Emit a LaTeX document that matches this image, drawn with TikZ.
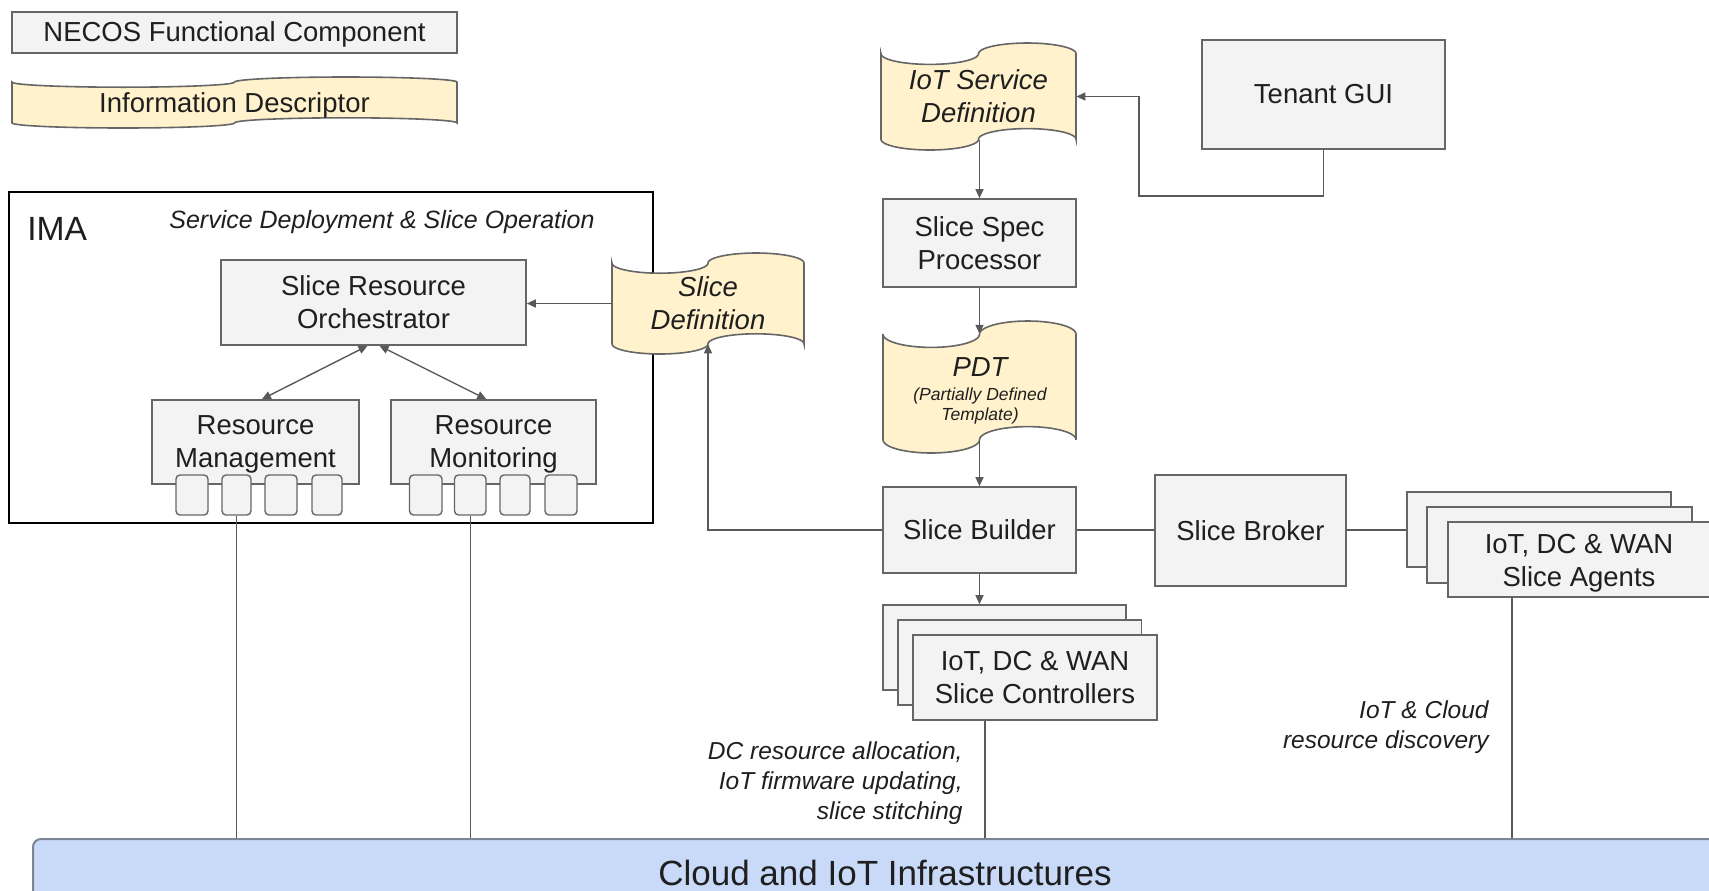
\documentclass[tikz,border=0pt]{standalone}
\usepackage{fontspec}
\setmainfont{Liberation Sans}
\usetikzlibrary{arrows.meta}

\definecolor{boxfill}{HTML}{F3F3F3}
\definecolor{boxline}{HTML}{666666}
\definecolor{wireline}{HTML}{595959}
\definecolor{tapefill}{HTML}{FFF2CC}
\definecolor{cloudfill}{HTML}{C9DAF8}
\definecolor{cloudline}{HTML}{7B8594}
\definecolor{inkcol}{HTML}{1F1F1F}

% Punched-tape outline (information descriptor): x1, x2, top, bottom in px
\newcommand\tapeshape[4]{%
  \pgfmathsetmacro\tapeq{(#2-#1)/4}%
  \pgfmathsetmacro\tapea{(#4-#3)/10}%
  \filldraw[tapebox]
    plot[variable=\t,domain=180:0,samples=31] ({#1+\tapeq+\tapeq*cos(\t)},{#3+\tapea+\tapea*sin(\t)})
    -- plot[variable=\t,domain=180:360,samples=31] ({#1+3*\tapeq+\tapeq*cos(\t)},{#3+\tapea+\tapea*sin(\t)})
    -- plot[variable=\t,domain=0:-180,samples=31] ({#1+3*\tapeq+\tapeq*cos(\t)},{#4-\tapea+\tapea*sin(\t)})
    -- plot[variable=\t,domain=0:180,samples=31] ({#1+\tapeq+\tapeq*cos(\t)},{#4-\tapea+\tapea*sin(\t)})
    -- cycle;}

% Box node spanning x1,y1 -- x2,y2 (px): [style]{name}{x1}{y1}{x2}{y2}{text}
\newcommand\cbox[7][comp]{%
  \node[#1, minimum width={(#5-#3)*0.5pt}, minimum height={(#6-#4)*0.5pt}]
    (#2) at ({(#3+#5)/2},{(#4+#6)/2}) {#7};}

\begin{document}
\begin{tikzpicture}[x=0.5pt,y=-0.5pt,
  >={Triangle[length=4.5pt,width=4pt]},
  comp/.style={draw=boxline, fill=boxfill, line width=0.8pt, inner sep=0pt,
    align=center, font=\fontsize{13.75}{16.5}\selectfont, text=inkcol},
  port/.style={draw=boxline, fill=boxfill, line width=0.7pt, inner sep=0pt, rounded corners=2pt},
  frame/.style={draw=black, line width=1pt, inner sep=0pt},
  tapebox/.style={draw=boxline, fill=tapefill, line width=0.8pt},
  plainlabel/.style={inner sep=0pt, align=center,
    font=\fontsize{13.75}{16.5}\selectfont, text=inkcol},
  dlabel/.style={inner sep=0pt, align=center,
    font=\fontsize{13.75}{16.5}\selectfont\itshape, text=inkcol},
  note/.style={inner sep=0pt, align=right,
    font=\fontsize{12.25}{15}\selectfont\itshape, text=inkcol},
  infra/.style={draw=cloudline, fill=cloudfill, line width=1pt, rounded corners=4pt, inner sep=0pt},
  wire/.style={draw=wireline, line width=0.7pt},
  drop/.style={draw=wireline, line width=0.6pt}]

\useasboundingbox (0,0) rectangle (1709,890);
\fill[white] (0,0) rectangle (1709,890);
\clip (0,0) rectangle (1709,890);

% ---- legend
\cbox{legcomp}{12}{12}{457}{53}{}
\node[plainlabel] (legcomptext) at (234.5,34.5) {NECOS Functional Component};
\tapeshape{12}{457}{77}{128}
\node[plainlabel] (legdesc) at (234.5,105) {Information Descriptor};

% ---- IMA block
\cbox[frame]{ima}{8.5}{192}{653}{523}{}
\node[inner sep=0pt, anchor=west, font=\fontsize{16.8}{20}\selectfont, text=inkcol]
  (imalabel) at (27,229) {IMA};
\node[inner sep=0pt, font=\fontsize{12.5}{15}\selectfont\itshape, text=inkcol]
  (imatitle) at (382,222) {Service Deployment \& Slice Operation};

\cbox{sro}{221}{260}{526}{345}{Slice Resource\\Orchestrator}
\cbox{rm}{152}{400}{359}{484}{}
\node[plainlabel] (rmtext) at (255.5,444) {Resource\\Management};
\cbox{rmon}{391}{400}{596}{484}{}
\node[plainlabel] (rmontext) at (493.5,444) {Resource\\Monitoring};

\cbox[port]{rm1}{176}{475}{208}{515}{}
\cbox[port]{rm2}{222}{475}{251}{515}{}
\cbox[port]{rm3}{265}{475}{297}{515}{}
\cbox[port]{rm4}{312}{475}{342}{515}{}
\cbox[port]{mon1}{409.5}{475}{442}{515}{}
\cbox[port]{mon2}{454.5}{475}{486}{515}{}
\cbox[port]{mon3}{500}{475}{530}{515}{}
\cbox[port]{mon4}{545}{475}{577}{515}{}

% ---- descriptors
\tapeshape{881}{1076}{43}{150}
\cbox[dlabel]{isd}{881}{53.7}{1076}{139.3}{IoT Service\\Definition}

\tapeshape{612}{804}{253}{354}
\cbox[dlabel]{sdef}{612}{263.1}{804}{343.9}{Slice\\Definition}

\tapeshape{883}{1076}{321}{453}
\cbox[dlabel]{pdt}{883}{334.2}{1076}{439.8}{}
\node[dlabel] (pdtname) at (980,367) {PDT};
\node[inner sep=0pt, align=center, font=\fontsize{8.75}{10.4}\selectfont\itshape, text=inkcol]
  (pdtnote) at (980,406) {(Partially Defined\\Template)};

% ---- functional components
\cbox{tgui}{1202}{40}{1445}{149}{Tenant GUI}
\cbox{ssp}{883}{199}{1076}{287}{Slice Spec\\Processor}
\cbox{sb}{883}{487}{1076}{573}{Slice Builder}
\cbox{sbr}{1155}{475}{1346}{586}{Slice Broker}

\cbox{ctrlC}{883}{605}{1126}{690}{}
\cbox{ctrlB}{898}{620}{1141.5}{705}{}
\cbox{ctrlA}{913}{635}{1157}{720}{IoT, DC \& WAN\\Slice Controllers}

\cbox{agC}{1407}{492}{1671}{567}{}
\cbox{agB}{1427}{507}{1692}{583}{}
\cbox{agA}{1448}{522}{1712}{597}{}
\node[plainlabel] (agtext) at (1579,563) {IoT, DC \& WAN\\Slice Agents};

% ---- infrastructure
\cbox[infra]{cloud}{33}{839}{1740}{930}{}
\node[inner sep=0pt, font=\fontsize{17.5}{21}\selectfont, text=inkcol]
  (cloudlabel) at (885,873) {Cloud and IoT Infrastructures};

% ---- connectors
\coordinate (guibend) at (1139,196);
\draw[wire,->] (tgui.south) |- (guibend) |- (isd.east);
\draw[wire,->] (ssp.north |- isd.south) -- (ssp.north);
\draw[wire,->] (ssp.south) -- (pdt.north);
\draw[wire,->] (pdt.south) -- (sb.north);
\draw[wire,->] (sb.west) -| (sdef.south);
\draw[wire,->] (sdef.west) -- (sdef.west -| sro.east);
\draw[wire,<->] ([xshift=-3pt]sro.south) -- ([xshift=3.2pt]rm.north);
\draw[wire,<->] ([xshift=3pt]sro.south) -- ([xshift=-3.6pt]rmon.north);
\draw[wire,->] (sb.south) -- (sb.south |- ctrlC.north);
\draw[wire] (sb.east) -- (sb.east -| sbr.west);
\draw[wire] (sb.east -| sbr.east) -- (sb.east -| agC.west);

\draw[drop] (rm2.south) -- (rm2.south |- cloud.north);
\draw[drop] (mon2.south) -- (mon2.south |- cloud.north);
\coordinate (ctrldrop) at ([xshift=-25pt]ctrlA.south);
\draw[drop] (ctrldrop) -- (ctrldrop |- cloud.north);
\coordinate (agdrop) at (1512,597);
\draw[drop] (agdrop) -- (agdrop |- cloud.north);

% ---- annotations
\node[note, anchor=east] (allocnote) at (963,783)
  {DC resource allocation,\\IoT firmware updating,\\slice stitching};
\node[note, anchor=east] (discnote) at (1489,727)
  {IoT \& Cloud\\resource discovery};
\end{tikzpicture}
\end{document}
